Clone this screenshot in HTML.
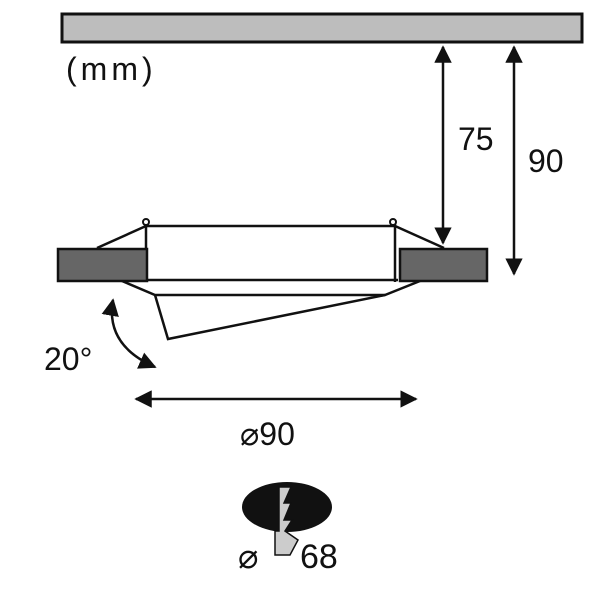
<!DOCTYPE html>
<html><head><style>body{margin:0;background:#fff}svg{display:block}</style></head><body>
<svg width="600" height="600" viewBox="0 0 600 600" xmlns="http://www.w3.org/2000/svg" font-family="Liberation Sans, sans-serif">
<defs><marker id="a" viewBox="0 0 10 10" refX="9" refY="5" markerWidth="7" markerHeight="7" orient="auto-start-reverse"><path d="M0,0 L10,5 L0,10 z" fill="#111"/></marker></defs>
<rect x="62" y="14" width="520" height="28" fill="#bdbdbd" stroke="#111" stroke-width="3"/>
<text x="66" y="80" font-size="32" fill="#111" letter-spacing="4">(mm)</text>
<line x1="443" y1="47" x2="443" y2="243" stroke="#111" stroke-width="2.5" marker-start="url(#a)" marker-end="url(#a)"/>
<line x1="514" y1="47" x2="514" y2="274" stroke="#111" stroke-width="2.5" marker-start="url(#a)" marker-end="url(#a)"/>
<text x="458" y="150" font-size="32" fill="#111">75</text>
<text x="528" y="172" font-size="32" fill="#111">90</text>
<g stroke="#111" stroke-width="2.5" fill="none">
<line x1="146" y1="226" x2="395" y2="226"/>
<line x1="146" y1="226" x2="97" y2="248"/>
<line x1="395" y1="226" x2="444" y2="248"/>
<line x1="146" y1="222" x2="146" y2="282"/>
<line x1="395" y1="222" x2="395" y2="282"/>
<line x1="147" y1="280" x2="398" y2="280"/>
<polyline points="122,281 155,295 385,295 420,281"/>
<polyline points="155,295 168,339 385,295"/>
<circle cx="146" cy="222" r="3" fill="#fff" stroke-width="2"/>
<circle cx="393" cy="222" r="3" fill="#fff" stroke-width="2"/>
</g>
<rect x="58" y="249" width="89" height="32" fill="#666" stroke="#111" stroke-width="2.5"/>
<rect x="400" y="249" width="87" height="32" fill="#666" stroke="#111" stroke-width="2.5"/>
<path d="M113,300 Q105,345 155,367" stroke="#111" stroke-width="2.5" fill="none" marker-start="url(#a)" marker-end="url(#a)"/>
<text x="44" y="370" font-size="32" fill="#111">20°</text>
<line x1="136" y1="399" x2="416" y2="399" stroke="#111" stroke-width="2.5" marker-start="url(#a)" marker-end="url(#a)"/>
<text x="240" y="445" font-size="32" fill="#111">⌀90</text>
<ellipse cx="287" cy="507" rx="45" ry="25" fill="#111"/>
<polygon points="279,487 291,487 284,503 291,503 284,520 292,520 285,531 298,540 290,555 275,555 275,531 279,531" fill="#ccc" stroke="#111" stroke-width="1.5"/>
<text x="238" y="568" font-size="34" fill="#111">⌀</text>
<text x="300" y="568" font-size="34" fill="#111">68</text>
</svg>
</body></html>
